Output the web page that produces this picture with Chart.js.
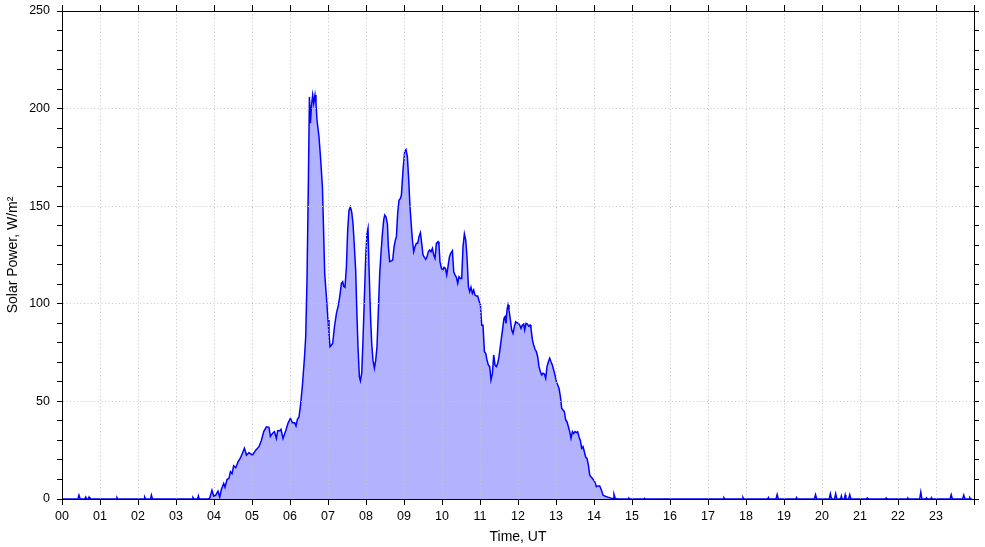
<!DOCTYPE html>
<html>
<head>
<meta charset="utf-8">
<title>Solar Power</title>
<script src="https://cdn.jsdelivr.net/npm/chart.js@4.4.0/dist/chart.umd.min.js"></script>
<style>
  html, body { margin: 0; padding: 0; background: #fff; }
</style>
</head>
<body>
<canvas id="grafico" width="985" height="547"></canvas>
<script>
// tiempo en horas UT y potencia solar en W/m2
const hours = [
  // noche (madrugada)
  0, 0.42, 0.447, 0.48, 0.6, 0.624, 0.65, 0.69, 0.711, 0.735,
  1.43, 1.447, 1.47, 2.16, 2.176, 2.2, 2.33, 2.353, 2.38,
  3.43, 3.447, 3.47, 3.57, 3.589, 3.61, 3.85,
  // dia
  3.887, 3.947, 3.992, 4.045, 4.105, 4.15, 4.195, 4.255, 4.289, 4.342,
  4.395, 4.432, 4.474, 4.518, 4.571, 4.632, 4.695, 4.747, 4.8, 4.853,
  4.921, 5.011, 5.097, 5.184, 5.247, 5.308, 5.379, 5.447, 5.484, 5.537,
  5.589, 5.642, 5.676, 5.729, 5.763, 5.816, 5.887, 5.947, 6.011, 6.063,
  6.124, 6.158, 6.195, 6.237, 6.282, 6.326, 6.379, 6.413, 6.447, 6.484,
  6.511, 6.537, 6.563, 6.597, 6.624, 6.658, 6.684, 6.711, 6.763, 6.808,
  6.853, 6.879, 6.913, 6.958, 7.0, 7.026, 7.053, 7.097, 7.124, 7.168,
  7.221, 7.274, 7.308, 7.353, 7.387, 7.413, 7.447, 7.484, 7.518, 7.553,
  7.589, 7.624, 7.658, 7.695, 7.729, 7.755, 7.789, 7.826, 7.853, 7.887,
  7.921, 7.958, 7.992, 8.026, 8.053, 8.079, 8.116, 8.15, 8.184, 8.221,
  8.255, 8.289, 8.326, 8.361, 8.395, 8.432, 8.466, 8.492, 8.526, 8.563,
  8.589, 8.624, 8.668, 8.703, 8.737, 8.774, 8.8, 8.834, 8.868, 8.905,
  8.932, 8.974, 9.018, 9.053, 9.089, 9.124, 9.158, 9.195, 9.221, 9.255,
  9.289, 9.326, 9.361, 9.395, 9.432, 9.466, 9.5, 9.537, 9.571, 9.605,
  9.642, 9.676, 9.711, 9.747, 9.782, 9.816, 9.853, 9.895, 9.921, 9.947,
  9.984, 10.018, 10.053, 10.089, 10.124, 10.158, 10.195, 10.229, 10.274, 10.308,
  10.342, 10.379, 10.413, 10.447, 10.484, 10.518, 10.553, 10.589, 10.624, 10.658,
  10.695, 10.729, 10.763, 10.8, 10.834, 10.868, 10.905, 10.939, 10.974, 11.011,
  11.045, 11.079, 11.116, 11.15, 11.184, 11.221, 11.255, 11.289, 11.326, 11.361,
  11.395, 11.432, 11.466, 11.5, 11.563, 11.597, 11.632, 11.658, 11.684, 11.711,
  11.737, 11.763, 11.8, 11.834, 11.868, 11.905, 11.939, 11.974, 12.011, 12.045,
  12.079, 12.116, 12.15, 12.176, 12.211, 12.247, 12.282, 12.316, 12.342, 12.379,
  12.413, 12.447, 12.484, 12.518, 12.553, 12.589, 12.624, 12.658, 12.695, 12.729,
  12.763, 12.8, 12.834, 12.868, 12.905, 12.939, 12.974, 13.011, 13.045, 13.079,
  13.116, 13.15, 13.184, 13.221, 13.255, 13.289, 13.326, 13.361, 13.395, 13.432,
  13.466, 13.5, 13.537, 13.571, 13.605, 13.642, 13.676, 13.711, 13.747, 13.782,
  13.816, 13.853, 13.887, 13.932, 13.974, 14.018, 14.063, 14.105, 14.15, 14.195,
  14.237, 14.282, 14.326, 14.368, 14.413, 14.458, 14.5, 14.526, 14.563, 14.632,
  // noche (tarde)
  14.9, 14.92, 14.94, 15.31, 15.33, 15.35, 17.4, 17.42, 17.44, 17.9, 17.92, 17.94,
  18.57, 18.59, 18.61, 18.79, 18.82, 18.85, 19.31, 19.33, 19.35, 19.8, 19.83, 19.86,
  20.19, 20.22, 20.25, 20.33, 20.36, 20.39, 20.49, 20.51, 20.53, 20.59, 20.61, 20.63,
  20.7, 20.73, 20.76, 21.17, 21.19, 21.21, 21.67, 21.69, 21.71, 22.24, 22.26, 22.28,
  22.57, 22.6, 22.63, 22.73, 22.75, 22.77, 22.86, 22.88, 22.9, 23.37, 23.4, 23.43,
  23.7, 23.73, 23.76, 23.87, 23.89, 23.91, 23.95
];

const power = [
  0, 0, 2, 0, 0, 1, 0, 0, 1, 0,
  0, 0.7, 0, 0, 1, 0, 0, 2, 0,
  0, 0.7, 0, 0, 1.5, 0, 0,
  0.4, 4.5, 1.5, 2, 4, 1, 5, 8, 6, 10,
  10.6, 14, 13, 17, 16, 19, 21, 23.4, 26, 22.5,
  23.7, 22.5, 25, 26.8, 30, 34.5, 37, 36.7, 32, 33.6,
  34.5, 31, 35, 35, 35.7, 31, 35, 38.8, 41.3, 39,
  39, 37.4, 40.8, 42, 49, 58, 72, 83, 112, 163,
  206, 192.5, 201, 207, 202.7, 207, 202.7, 194, 185.6, 173.7,
  160, 141, 115.6, 103.6, 91.7, 85, 78, 79, 79.8, 88,
  95, 99.4, 103.6, 110.5, 111.3, 109, 108.5, 119, 137.8, 148,
  149.7, 147, 141, 129, 117, 98.5, 78, 62.6, 60.6, 64.4,
  81.5, 103.6, 124, 136, 138.7, 119, 95, 79.8, 71, 67,
  71, 78, 96.8, 115.6, 126, 136, 143, 145.5, 144.6, 141,
  129, 121.6, 122, 122.4, 129, 132.7, 134.4, 146.4, 153, 154,
  155.7, 168.5, 178, 179, 175.4, 163.4, 149.7, 139.5, 132.7, 126.7,
  129.2, 131, 131, 134.4, 136.4, 131, 125, 123.8, 122.8, 124,
  126.7, 127.6, 126.7, 128.4, 125, 123.3, 131, 131.8, 130, 121.6,
  118.2, 117.3, 118.7, 118.2, 114.8, 119, 124, 125.9, 127.2, 116.4,
  114.8, 113.6, 110.5, 113.9, 113, 113, 129.2, 135.8, 132.7, 124,
  108.8, 106.2, 108.5, 105.4, 107, 104.5, 104, 104, 101.6, 99.4,
  89, 89, 75.5, 74.6, 71.2, 68.6, 67.8, 61, 64.4, 73.8,
  68.6, 67.8, 69.5, 72.9, 82.3, 87.4, 92.6, 93.4, 90, 96.8,
  99.4, 96.8, 91.7, 86.6, 84.9, 88.3, 90.8, 90.3, 90, 89.1,
  87.4, 89.1, 89.6, 86.6, 90, 89.6, 88.6, 89.1, 87.4, 81.5,
  78.9, 76.7, 75.5, 72.9, 67.8, 65.2, 63.5, 64.4, 64, 61.8,
  67.8, 70.3, 72.1, 70.3, 68.6, 66.1, 63.5, 60.1, 58.4, 56.7,
  52.4, 46.5, 45.6, 44.7, 40.5, 39.6, 37, 34.5, 31.1, 34.5,
  33.6, 34.5, 34, 34.5, 31.9, 29.9, 26, 26.8, 24.2, 21.4,
  20.8, 17.4, 12.3, 11.1, 10.1, 8.9, 6.3, 6.7, 6.7, 4.6,
  2, 1.5, 1.2, 0.9, 0.7, 0.3, 0.2, 2.4, 0.2, 0,
  0, 0.4, 0, 0, 0.4, 0, 0, 0.6, 0, 0, 0.8, 0,
  0, 0.8, 0, 0, 2.3, 0, 0, 0.8, 0, 0, 2.2, 0,
  0, 2.7, 0, 0, 2.7, 0, 0, 1.5, 0, 0, 2, 0,
  0, 2.2, 0, 0, 0.5, 0, 0, 0.5, 0, 0, 0.4, 0,
  0, 3.5, 0, 0, 0.6, 0, 0, 0.7, 0, 0, 2.2, 0,
  0, 2, 0, 0, 0.6, 0, 0
];

const hourTicks = { min: 0, max: 24, step: 1 };
const powerTicks = { min: 0, max: 250, step: 10, major: 50 };

const gridColor = "#c4c4c4";
Chart.defaults.font.family = "'Liberation Sans', Arial, sans-serif";
Chart.defaults.font.size = 12.5;
Chart.defaults.color = "#000";

function etiquetaHora(v) {
  return v < 24 ? String(v).padStart(2, "0") : "";
}

function colorGrilla(ctx) {
  if (!ctx.tick) return gridColor;
  return ctx.tick.value % powerTicks.major === 0 ? gridColor : "transparent";
}

const puntos = hours.map((h, i) => ({ x: h, y: power[i] }));

const config = {
  type: "line",
  data: {
    datasets: [
      {
        data: puntos,
        borderColor: "#0000ff",
        backgroundColor: "rgba(0, 0, 255, 0.3)",
        borderWidth: 1.5,
        pointRadius: 0,
        tension: 0,
        fill: "origin",
      },
    ],
  },
  options: {
    responsive: false,
    animation: false,
    plugins: {
      legend: { display: false },
      tooltip: { enabled: false },
    },
    scales: {
      x: {
        type: "linear",
        position: "bottom",
        min: hourTicks.min,
        max: hourTicks.max,
        afterFit: function (s) { s.height = 48; },
        ticks: {
          stepSize: hourTicks.step,
          autoSkip: false,
          maxRotation: 0,
          padding: 4,
          callback: etiquetaHora,
        },
        grid: { z: 1, color: gridColor, tickColor: "#000", tickLength: 6 },
        border: { z: 2, color: "#000", width: 1, dash: [1, 2.5] },
        title: { display: true, text: "Time, UT", font: { size: 14 }, padding: { top: 0, bottom: 1 } },
      },
      x2: {
        type: "linear",
        position: "top",
        min: hourTicks.min,
        max: hourTicks.max,
        afterFit: function (s) { s.height = 11; },
        ticks: { stepSize: hourTicks.step, autoSkip: false, display: false },
        grid: { z: 1, drawOnChartArea: false, tickColor: "#000", tickLength: 6 },
        border: { z: 2, color: "#000", width: 1 },
      },
      y: {
        position: "left",
        min: powerTicks.min,
        max: powerTicks.max,
        afterFit: function (s) { s.width = 62; },
        ticks: {
          stepSize: powerTicks.step,
          autoSkip: false,
          padding: 7,
          font: { lineHeight: 0.5 },
          callback: (v) => (v % powerTicks.major === 0 ? v : ""),
        },
        grid: { z: 1, color: colorGrilla, tickColor: "#000", tickLength: 5 },
        border: { z: 2, color: "#000", width: 1, dash: [1, 2.5] },
        title: { display: true, text: "Solar Power, W/m²", font: { size: 14 }, padding: { top: 5, bottom: 4 } },
      },
      y2: {
        position: "right",
        min: powerTicks.min,
        max: powerTicks.max,
        afterFit: function (s) { s.width = 11; },
        ticks: { stepSize: powerTicks.step, autoSkip: false, display: false },
        grid: { z: 1, drawOnChartArea: false, tickColor: "#000", tickLength: 5 },
        border: { z: 2, color: "#000", width: 1 },
      },
    },
  },
};

const chart = new Chart(document.getElementById("grafico"), config);
</script>
</body>
</html>
